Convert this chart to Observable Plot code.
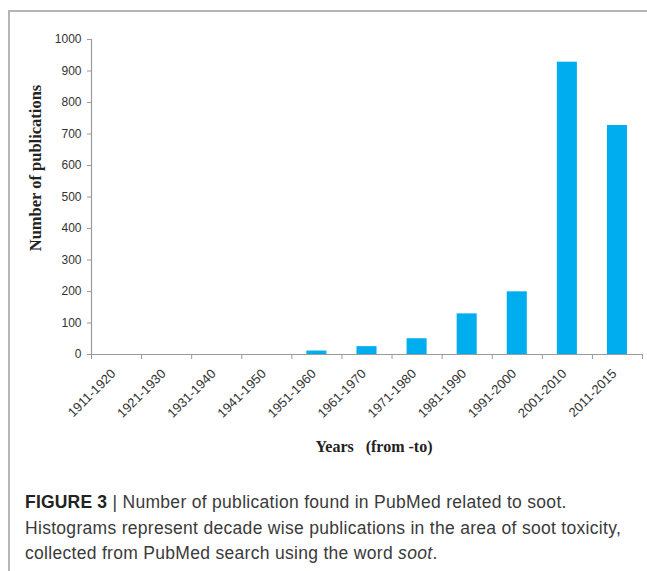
<!DOCTYPE html>
<html>
<head>
<meta charset="utf-8">
<script src="https://cdn.jsdelivr.net/npm/d3@7"></script>
<script src="https://cdn.jsdelivr.net/npm/@observablehq/plot@0.6"></script>
<style>
  html, body { margin: 0; padding: 0; background: #fff; }
  body { width: 647px; height: 571px; position: relative; overflow: hidden; }
  #frame { position: absolute; left: 8px; top: 10px; width: 700px; height: 600px;
           border-left: 2px solid #b5b5b5; border-top: 2px solid #b5b5b5; box-sizing: border-box; }
  #chart { position: absolute; left: 0; top: 0; }
  #caption { position: absolute; left: 25px; top: 490px; width: 620px; white-space: nowrap;
             font-family: "Liberation Sans", Arial, sans-serif; font-size: 17.5px; line-height: 25.5px;
             color: #3a3a3a; letter-spacing: 0.3px; }
  #caption b { color: #222; letter-spacing: 0.2px; }
</style>
</head>
<body>
<div id="frame"></div>
<div id="chart"></div>
<div id="caption"><b>FIGURE 3</b> | Number of publication found in PubMed related to soot.<br>Histograms represent decade wise publications in the area of soot toxicity,<br>collected from PubMed search using the word <i>soot</i>.</div>
<script>
const categories = ["1911-1920","1921-1930","1931-1940","1941-1950","1951-1960","1961-1970","1971-1980","1981-1990","1991-2000","2001-2010","2011-2015"];
const publications = [0, 0, 0, 0, 11, 25, 50, 129, 199, 928, 727];
const yTicks = [0,100,200,300,400,500,600,700,800,900,1000];

const data = categories.map((c, i) => ({cat: c, idx: i, value: publications[i]}));
const boundaries = d3.range(0, categories.length + 1);
const centers = categories.map((c, i) => i + 0.5);

const axisColor = "#9a9a9a";
const tickFont = "'Liberation Sans', Arial, sans-serif";
const serif = "'Liberation Serif', 'Times New Roman', serif";

const chart = Plot.plot({
  width: 647,
  height: 470,
  marginLeft: 91,
  marginRight: 5,
  marginTop: 39,
  marginBottom: 116,
  style: { fontFamily: tickFont, fontSize: "12px", color: "#333", background: "transparent" },
  x: { domain: [0, categories.length], axis: null },
  y: { domain: [0, 1000], axis: null },
  marks: [
    Plot.rectY(data, { x1: d => d.idx + 0.3, x2: d => d.idx + 0.7, y: "value", fill: "#00aeef" }),
    Plot.axisY({ ticks: yTicks, tickSize: 4, tickPadding: 6, stroke: axisColor, fill: "#333",
                 fontSize: 12, tickFormat: d3.format("d"), label: null }),
    Plot.axisX({ ticks: boundaries, tickSize: 5, tickFormat: () => "", stroke: axisColor, label: null }),
    Plot.axisX({ ticks: centers, tickSize: 0, tickRotate: -45, tickPadding: 17, dx: -3,
                 tickFormat: (d) => categories[Math.floor(d)], fill: "#333", fontSize: 13, label: null }),
    Plot.ruleX([0], { stroke: axisColor, strokeWidth: 1.2 }),
    Plot.ruleY([0], { stroke: axisColor, strokeWidth: 1.2 }),
    Plot.text(["Number of publications"], { frameAnchor: "left", textAnchor: "middle", dx: -56, dy: -29, rotate: -90,
      fontFamily: serif, fontWeight: "bold", fontSize: 16.5, letterSpacing: "1.1px",
      fill: "#222", text: d => d }),
    Plot.text(["Years   (from -to)"], { frameAnchor: "bottom", dy: 97, dx: 7,
      fontFamily: serif, fontWeight: "bold", fontSize: 16, letterSpacing: "1.3px",
      fill: "#222", text: d => d })
  ]
});
chart.querySelectorAll("text").forEach(t => { if (t.textContent.includes("   ")) { t.setAttribute("xml:space", "preserve"); t.style.whiteSpace = "pre"; } });
document.getElementById("chart").appendChild(chart);
</script>
</body>
</html>
